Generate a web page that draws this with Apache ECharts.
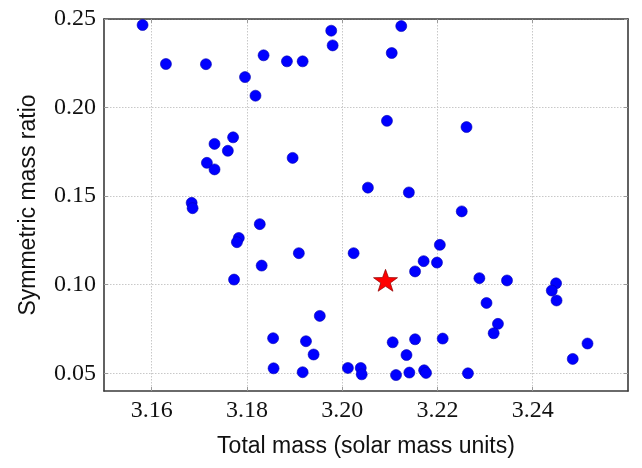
<!DOCTYPE html>
<html>
<head>
<meta charset="utf-8">
<script src="https://cdn.jsdelivr.net/npm/echarts@6/dist/echarts.min.js"></script>
<style>
  html, body { margin: 0; padding: 0; background: #fff; }
  #chart { width: 642px; height: 468px; }
</style>
</head>
<body>
<div id="chart"></div>
<script>
// Template bank: total mass vs symmetric mass ratio
const totalMass = [
  3.1581, 3.1630, 3.1714, 3.1796, 3.1818, 3.1835, 3.1884, 3.1917, 3.1977, 3.1980,
  3.1771, 3.1732, 3.1760, 3.1716, 3.1732, 3.1896, 3.2054, 3.2124, 3.2104, 3.2094,
  3.2261, 3.2140, 3.1684, 3.1686, 3.1827, 3.1783, 3.1779, 3.1909, 3.2024, 3.1831,
  3.1773, 3.1953, 3.1855, 3.1924, 3.1940, 3.1856, 3.1917, 3.2012, 3.2039, 3.2041,
  3.2251, 3.2205, 3.2171, 3.2199, 3.2153, 3.2288, 3.2346, 3.2449, 3.2440, 3.2450,
  3.2303, 3.2327, 3.2318, 3.2211, 3.2153, 3.2106, 3.2135, 3.2515, 3.2484, 3.2113,
  3.2141, 3.2172, 3.2176, 3.2264
];
const symMassRatio = [
  0.2466, 0.2246, 0.2245, 0.2172, 0.2067, 0.2295, 0.2261, 0.2261, 0.2434, 0.2351,
  0.1832, 0.1795, 0.1756, 0.1688, 0.1651, 0.1716, 0.1548, 0.2460, 0.2308, 0.1925,
  0.1890, 0.1521, 0.1462, 0.1432, 0.1342, 0.1264, 0.1240, 0.1178, 0.1178, 0.1108,
  0.1029, 0.0824, 0.0698, 0.0681, 0.0606, 0.0528, 0.0506, 0.0530, 0.0530, 0.0494,
  0.1414, 0.1225, 0.1133, 0.1125, 0.1075, 0.1037, 0.1024, 0.1008, 0.0967, 0.0911,
  0.0897, 0.0779, 0.0726, 0.0696, 0.0692, 0.0675, 0.0603, 0.0668, 0.0581, 0.0490,
  0.0504, 0.0517, 0.0502, 0.0500
];
// Injected signal
const injMass = [3.2091];
const injEta = [0.1025];

const xTicks = [3.16, 3.18, 3.20, 3.22, 3.24];
const yTicks = [0.05, 0.10, 0.15, 0.20, 0.25];

const xRange = [3.15, 3.26];
const yRange = [0.04, 0.25];

const frameColor = '#3a3a3a';
const tickColor = '#9a9a9a';

function mainAxis(ticks, range, digits, extra) {
  return Object.assign({
    type: 'value',
    min: range[0],
    max: range[1],
    axisLine: { show: true, onZero: false, lineStyle: { color: frameColor, width: 1.6 } },
    axisTick: { show: true, inside: true, length: 4, customValues: ticks, lineStyle: { color: tickColor, width: 1 } },
    axisLabel: {
      customValues: ticks,
      formatter: v => v.toFixed(digits),
      fontFamily: '"Liberation Serif", serif',
      fontSize: 24,
      color: '#111'
    },
    splitLine: { show: true, lineStyle: { color: '#c8c8c8', type: [1.5, 1.5], width: 1 } }
  }, extra);
}

function frameAxis(ticks, range, pos) {
  return {
    type: 'value',
    position: pos,
    min: range[0],
    max: range[1],
    axisLine: { show: true, onZero: false, lineStyle: { color: frameColor, width: 1.6 } },
    axisTick: { show: true, inside: true, length: 4, customValues: ticks, lineStyle: { color: tickColor, width: 1 } },
    axisLabel: { show: false },
    splitLine: { show: false }
  };
}

const pairs = totalMass.map((m, i) => [m, symMassRatio[i]]);
const injPairs = injMass.map((m, i) => [m, injEta[i]]);

const chart = echarts.init(document.getElementById('chart'), null, { renderer: 'canvas' });
chart.setOption({
  backgroundColor: '#ffffff',
  animation: false,
  grid: { left: 104, right: 14, top: 19, bottom: 77 },
  xAxis: [
    mainAxis(xTicks, xRange, 2, {
      position: 'bottom',
      name: 'Total mass (solar mass units)',
      nameLocation: 'middle',
      nameGap: 44,
      nameTextStyle: { fontFamily: '"Liberation Sans", Arial, sans-serif', fontSize: 23, color: '#111' },
      axisLabel: {
        customValues: xTicks,
        formatter: v => v.toFixed(2),
        fontFamily: '"Liberation Serif", serif',
        fontSize: 24,
        color: '#111',
        margin: 8
      }
    }),
    frameAxis(xTicks, xRange, 'top')
  ],
  yAxis: [
    mainAxis(yTicks, yRange, 2, {
      position: 'left',
      name: 'Symmetric mass ratio',
      nameLocation: 'middle',
      nameGap: 64,
      nameTextStyle: { fontFamily: '"Liberation Sans", Arial, sans-serif', fontSize: 23, color: '#111' },
      axisLabel: {
        customValues: yTicks,
        formatter: v => v.toFixed(2),
        fontFamily: '"Liberation Serif", serif',
        fontSize: 24,
        color: '#111',
        margin: 8
      }
    }),
    frameAxis(yTicks, yRange, 'right')
  ],
  series: [
    {
      type: 'scatter',
      data: pairs,
      symbol: 'circle',
      symbolSize: 11,
      itemStyle: { color: '#0000ff', borderColor: '#0000b0', borderWidth: 0.6, opacity: 1 },
      z: 3
    },
    {
      type: 'scatter',
      data: injPairs,
      symbol: 'path://M0,-10 L2.351,-3.236 L9.511,-3.090 L3.804,1.236 L5.878,8.090 L0,4 L-5.878,8.090 L-3.804,1.236 L-9.511,-3.090 L-2.351,-3.236 Z',
      symbolSize: [24, 23],
      symbolKeepAspect: true,
      itemStyle: { color: '#ff0000', borderColor: '#8b0000', borderWidth: 0.7, opacity: 1 },
      z: 4
    }
  ]
});
</script>
</body>
</html>
